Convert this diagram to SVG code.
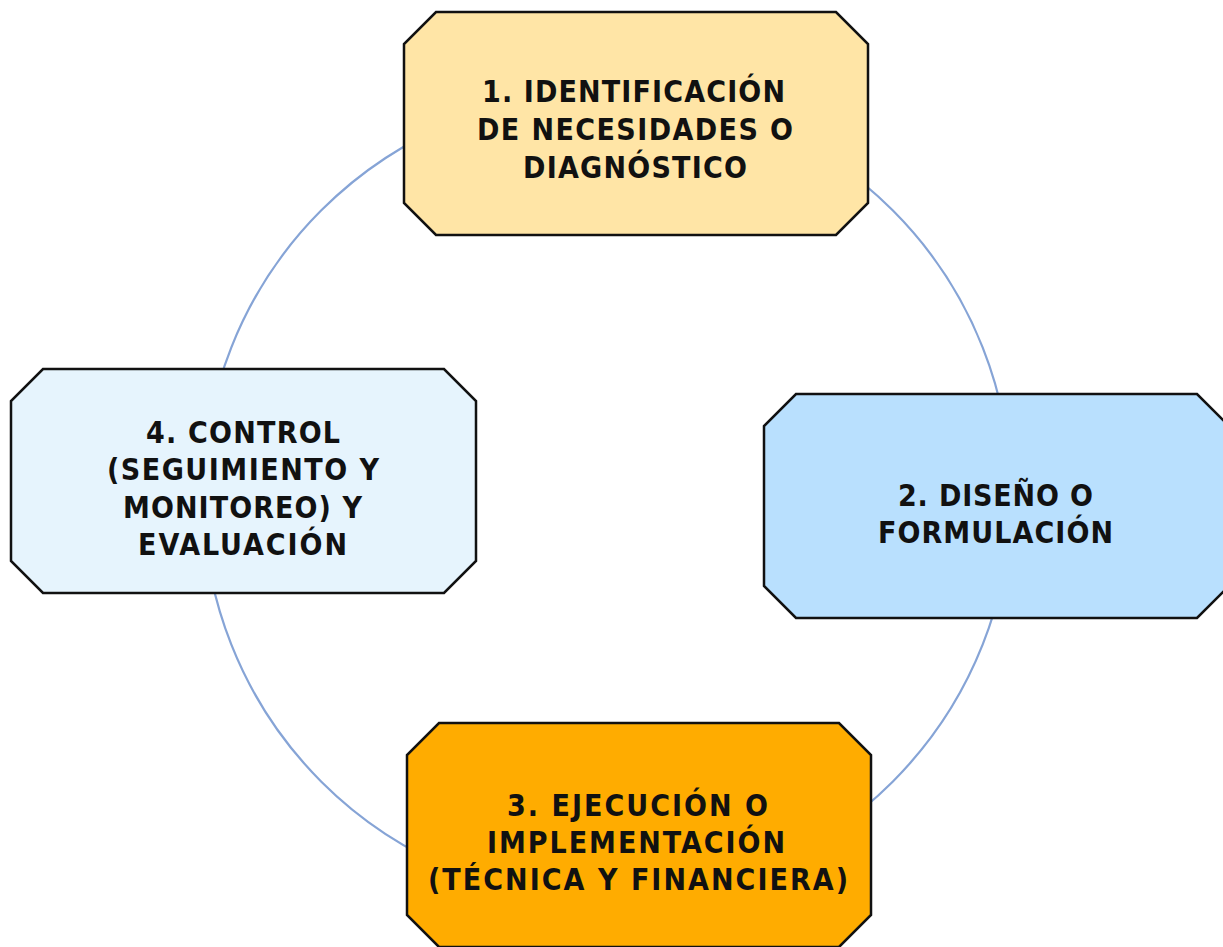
<svg xmlns="http://www.w3.org/2000/svg" width="1223" height="947" viewBox="0 0 1223 947">
<style>
.node{stroke:#111;stroke-width:2.5;stroke-linejoin:miter}
.lbl{font-family:"DejaVu Sans Condensed","Liberation Sans Narrow","Liberation Sans",sans-serif;font-weight:bold;font-size:30px;fill:#111}
.cycle{fill:none;stroke:#86A4D6;stroke-width:2.2}
</style>
<rect width="1223" height="947" fill="#fff"/>
<g id="connectors">
<circle class="cycle" cx="607" cy="496" r="404"/>
</g>
<g id="node1">
<polygon class="node" fill="#FFE5A6" points="436,12 836,12 868,44 868,203 836,235 436,235 404,203 404,44"/>
<text class="lbl" x="482" y="102" textLength="303" lengthAdjust="spacing">1. IDENTIFICACIÓN</text>
<text class="lbl" x="477" y="140" textLength="316" lengthAdjust="spacing">DE NECESIDADES O</text>
<text class="lbl" x="523" y="178" textLength="224" lengthAdjust="spacing">DIAGNÓSTICO</text>
</g>
<g id="node2">
<polygon class="node" fill="#B9E0FE" points="796,394 1197,394 1229,426 1229,586 1197,618 796,618 764,586 764,426"/>
<text class="lbl" x="898" y="506" textLength="195" lengthAdjust="spacing">2. DISEÑO O</text>
<text class="lbl" x="878" y="543" textLength="235" lengthAdjust="spacing">FORMULACIÓN</text>
</g>
<g id="node3">
<polygon class="node" fill="#FFAC00" points="439,723 839,723 871,755 871,915 839,947 439,947 407,915 407,755"/>
<text class="lbl" x="507" y="816" textLength="261" lengthAdjust="spacing">3. EJECUCIÓN O</text>
<text class="lbl" x="487" y="853" textLength="298" lengthAdjust="spacing">IMPLEMENTACIÓN</text>
<text class="lbl" x="428" y="890" textLength="420" lengthAdjust="spacing">(TÉCNICA Y FINANCIERA)</text>
</g>
<g id="node4">
<polygon class="node" fill="#E6F4FD" points="43,369 444,369 476,401 476,561 444,593 43,593 11,561 11,401"/>
<text class="lbl" x="146" y="443" textLength="194" lengthAdjust="spacing">4. CONTROL</text>
<text class="lbl" x="107" y="480" textLength="272" lengthAdjust="spacing">(SEGUIMIENTO Y</text>
<text class="lbl" x="123" y="518" textLength="239" lengthAdjust="spacing">MONITOREO) Y</text>
<text class="lbl" x="138" y="555" textLength="209" lengthAdjust="spacing">EVALUACIÓN</text>
</g>
</svg>
